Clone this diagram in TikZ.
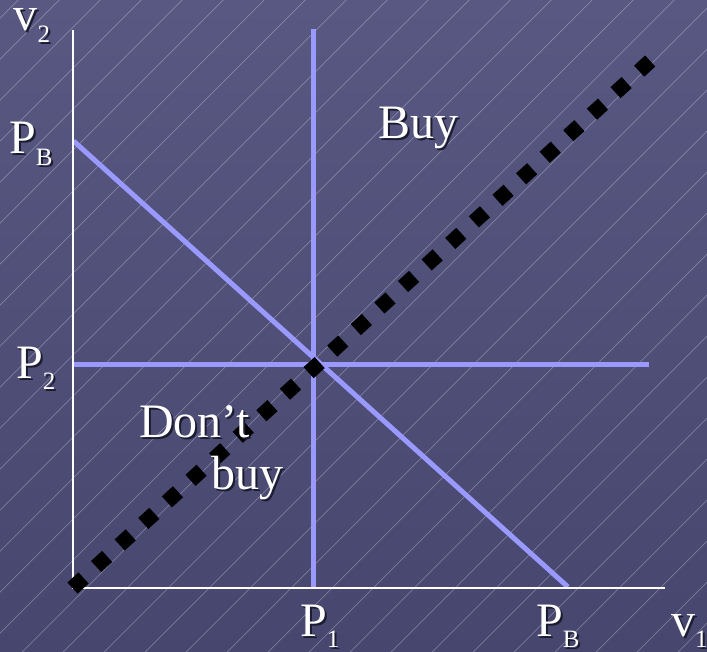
\documentclass[tikz,border=0pt]{standalone}
\usepackage{fontspec}
\setmainfont{Liberation Serif}
\definecolor{bgtop}{RGB}{88,88,130}
\definecolor{bgbot}{RGB}{70,70,110}
\definecolor{lineblue}{RGB}{153,153,255}
\definecolor{shadowcol}{RGB}{28,28,48}
\newcommand{\subtxt}[1]{\raisebox{-11.5pt}{\fontsize{25}{25}\selectfont #1}}
\newcommand{\shadowed}[1]{\makebox[0pt][l]{\hspace{2pt}\raisebox{-2pt}{\color{shadowcol}#1}}#1}
\begin{document}
\begin{tikzpicture}[x=1pt,y=-1pt,
  txt/.style={anchor=base west, inner sep=0pt, text=white, font=\fontsize{48}{48}\selectfont},
  axis/.style={white, line width=2pt},
  guide/.style={lineblue, line width=5pt},
  hatch/.style={white, opacity=0.36, line width=0.6pt},
  dotline/.style={black, line width=15pt, dash pattern=on 15pt off 16.96pt}]
\useasboundingbox (0,0) rectangle (707,652);
\shade[top color=bgtop, bottom color=bgbot] (0,0) rectangle (707,652);
\begin{scope}
  \clip (0,0) rectangle (707,652);
  \foreach \k in {-5,...,27} {
    \draw[hatch] ({223.3+41*\k},0) -- ({223.3+41*\k-652},652);
  }
\end{scope}
% coordinates
\coordinate (O) at (72.5,588);
\coordinate (Ytop) at (72.5,30);
\coordinate (Xend) at (665,588);
\coordinate (P1top) at (313.5,29);
\coordinate (P1bot) at (313.5,587);
\coordinate (P2left) at (73.5,364.5);
\coordinate (P2right) at (649,364.5);
\coordinate (PBy) at (73.5,141);
\coordinate (PBx) at (568,587);
\coordinate (D1) at (72.46,588.05);
\coordinate (D2) at (650.2,61.05);
% guide lines
\draw[guide] (P1top) -- (P1bot);
\draw[guide] (P2left) -- (P2right);
\draw[guide] (PBy) -- (PBx);
% axes
\draw[axis] (Ytop) -- (O) -- (Xend);
% dotted 45-degree line
\draw[dotline] (D1) -- (D2);
% labels
\node[txt] (v2) at (13.5,31) {\shadowed{v\subtxt{2}}};
\node[txt] (pbl) at (9,154) {\shadowed{P\subtxt{B}}};
\node[txt] (p2) at (16,378) {\shadowed{P\subtxt{2}}};
\node[txt] (p1) at (300,636) {\shadowed{P\subtxt{1}}};
\node[txt] (pbb) at (536,636) {\shadowed{P\subtxt{B}}};
\node[txt] (v1) at (671,636) {\shadowed{v\subtxt{1}}};
\node[txt] (buy) at (378,138.5) {\shadowed{Buy}};
\node[txt] (dont) at (139,437) {\shadowed{Don’t}};
\node[txt] (dbuy) at (211,489) {\shadowed{buy}};
\end{tikzpicture}
\end{document}
